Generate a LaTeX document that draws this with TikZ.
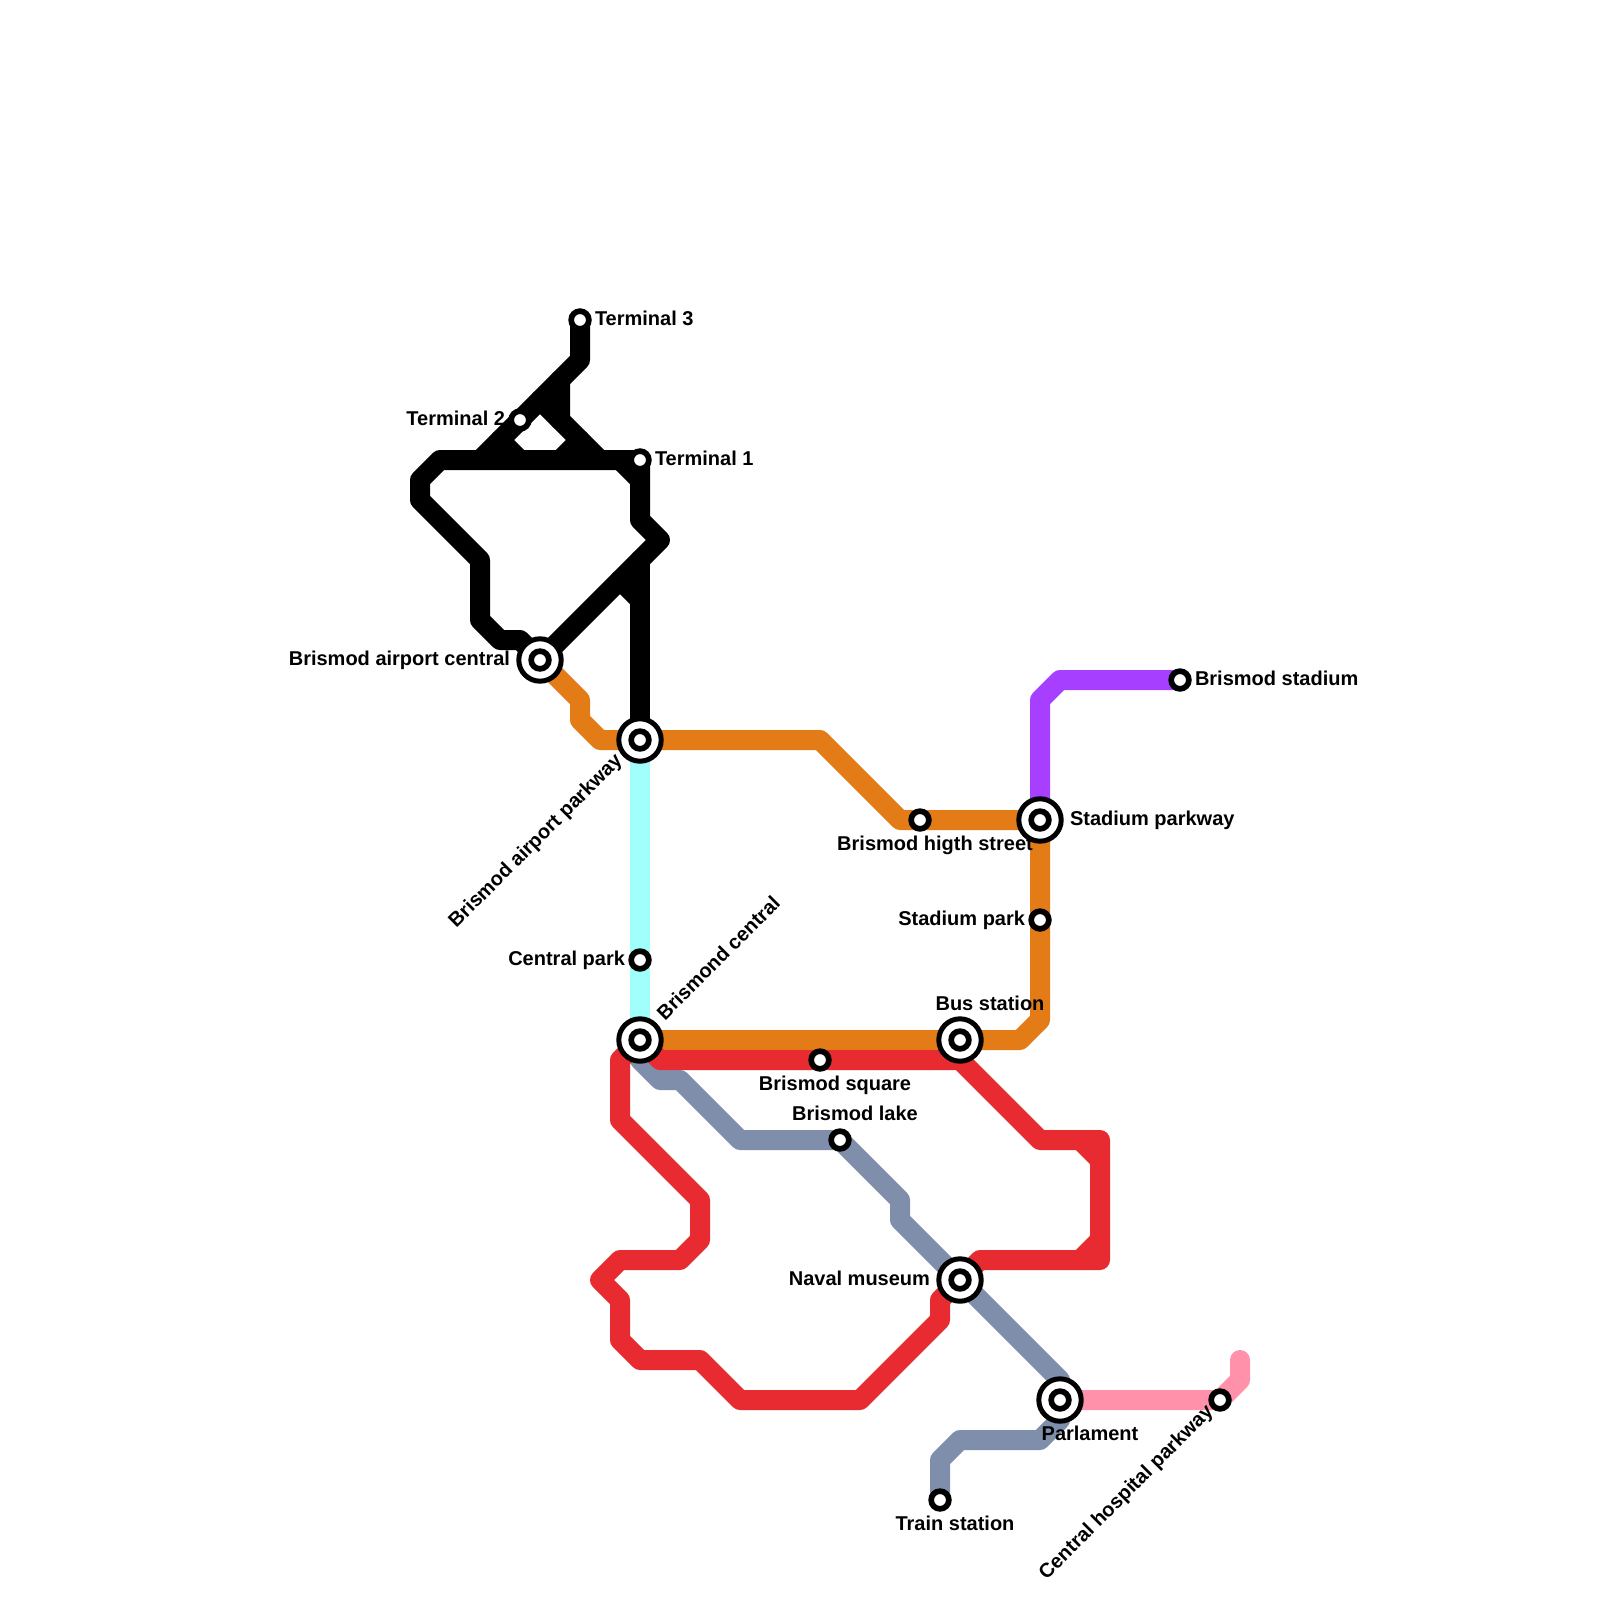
\documentclass[tikz,border=0pt]{standalone}
\usepackage{fontspec}
\setmainfont{Liberation Sans}
\definecolor{lorange}{HTML}{E37B17}
\definecolor{lred}{HTML}{E82B30}
\definecolor{lgrey}{HTML}{7F8FAB}
\definecolor{lcyan}{HTML}{A0FFFA}
\definecolor{lpink}{HTML}{FF91AA}
\definecolor{lpurple}{HTML}{A63FFF}
\pgfdeclarelayer{paper}
\pgfdeclarelayer{lines}
\pgfsetlayers{paper,lines,main}
\tikzset{
  railway/.style={line width=20pt,line cap=round,line join=round},
  smallstn/.style={circle,draw=black,fill=white,line width=5.7pt,minimum size=17.7pt,inner sep=0pt,outer sep=0pt},
  bigstn/.style={circle,draw=black,fill=white,line width=5pt,minimum size=42.4pt,inner sep=0pt,outer sep=0pt},
  lab/.style={font=\fontsize{20}{24}\selectfont\bfseries,inner sep=0pt,outer sep=0pt,text=black},
}
\newcommand{\smallat}[2]{\node[smallstn] (#1) at (#2) {};}
\newcommand{\bigat}[2]{\node[bigstn] (#1) at (#2) {};\node[smallstn] (#1-c) at (#1.center) {};}
\begin{document}
\begin{tikzpicture}[x=1pt,y=-1pt]
\useasboundingbox (0,0) rectangle (1600,1600);
\begin{pgfonlayer}{paper}
\fill[white] (0,0) rectangle (1600,1600);
\end{pgfonlayer}
% stations
\smallat{tt}{580,320}
\smallat{tb}{520,420}
\smallat{ta}{640,460}
\bigat{apc}{540,660}
\bigat{app}{640,740}
\bigat{ctr}{640,1040}
\smallat{cpk}{640,960}
\smallat{squ}{820,1060}
\smallat{lak}{840,1140}
\bigat{nav}{960,1280}
\bigat{par}{1060,1400}
\smallat{trn}{940,1500}
\smallat{hos}{1220,1400}
\bigat{bus}{960,1040}
\smallat{spk}{1040,920}
\bigat{spw}{1040,820}
\smallat{hst}{920,820}
\smallat{std}{1180,680}
% lines
\begin{pgfonlayer}{lines}
\draw[railway,lcyan] (app.center) -- (cpk.center) -- (ctr.center);
\draw[railway,lpink] (par.center) -- (hos.center) -- (1240,1380) -- (1240,1360);
\draw[railway,lpurple] (spw.center) -- (1040,700) -- (1060,680) -- (std.center);
\draw[railway,lgrey] (ctr.center) -- (640,1060) -- (660,1080) -- (680,1080) -- (740,1140) -- (lak.center) -- (900,1200) -- (900,1220) -- (nav.center) -- (1060,1380) -- (par.center) -- (1060,1420) -- (1040,1440) -- (960,1440) -- (940,1460) -- (trn.center);
\draw[railway,lorange] (apc.center) -- (580,700) -- (580,720) -- (600,740) -- (app.center) -- (820,740) -- (900,820) -- (hst.center) -- (spw.center) -- (spk.center) -- (1040,1020) -- (1020,1040) -- (bus.center) -- (ctr.center);
\draw[railway,lred] (ctr.center) -- (660,1060) -- (squ.center) -- (960,1060) -- (1040,1140) -- (1100,1140) -- (1100,1260) -- (980,1260) -- (nav.center) -- (940,1300) -- (940,1320) -- (860,1400) -- (740,1400) -- (700,1360) -- (640,1360) -- (620,1340) -- (620,1300) -- (600,1280) -- (620,1260) -- (680,1260) -- (700,1240) -- (700,1200) -- (620,1120) -- (620,1060) -- (ctr.center);
\draw[railway,lred] (1080,1140) -- (1100,1160);
\draw[railway,lred] (1100,1240) -- (1080,1260);
\draw[railway,black] (tt.center) -- (580,360) -- (tb.center) -- (480,460);
\draw[railway,black] (ta.center) -- (440,460) -- (420,480) -- (420,500) -- (480,560) -- (480,620) -- (500,640) -- (520,640) -- (apc.center) -- (660,540) -- (640,520) -- (ta.center);
\draw[railway,black] (620,460) -- (640,480);
\draw[railway,black] (560,380) -- (560,420) -- (600,460);
\draw[railway,black] (540,400) -- (560,420);
\draw[railway,black] (500,440) -- (520,460);
\draw[railway,black] (560,460) -- (580,440);
\draw[railway,black] (app.center) -- (640,560);
\draw[railway,black] (640,600) -- (620,580);
\end{pgfonlayer}
% labels
\node[lab,anchor=base west] (l1) at (595,325) {Terminal 3};
\node[lab,anchor=base east] (l2) at (505,425) {Terminal 2};
\node[lab,anchor=base west] (l3) at (655,465) {Terminal 1};
\node[lab,anchor=base east] (l4) at (510,665) {Brismod airport central};
\node[lab,anchor=base east,rotate=45] (l5) at (623,762) {Brismod airport parkway};
\node[lab,anchor=base west,rotate=45] (l6) at (665,1021) {Brismond central};
\node[lab,anchor=base east] (l7) at (625,965) {Central park};
\node[lab,anchor=base] (l8) at (835,1090) {Brismod square};
\node[lab,anchor=base] (l9) at (855,1120) {Brismod lake};
\node[lab,anchor=base east] (l10) at (930,1285) {Naval museum};
\node[lab,anchor=base] (l11) at (1090,1440) {Parlament};
\node[lab,anchor=base] (l12) at (955,1530) {Train station};
\node[lab,anchor=base east,rotate=45] (l13) at (1214,1413) {Central hospital parkway};
\node[lab,anchor=base] (l14) at (990,1010) {Bus station};
\node[lab,anchor=base east] (l15) at (1025,925) {Stadium park};
\node[lab,anchor=base west] (l16) at (1070,825) {Stadium parkway};
\node[lab,anchor=base] (l17) at (935,850) {Brismod higth street};
\node[lab,anchor=base west] (l18) at (1195,685) {Brismod stadium};
\end{tikzpicture}
\end{document}
